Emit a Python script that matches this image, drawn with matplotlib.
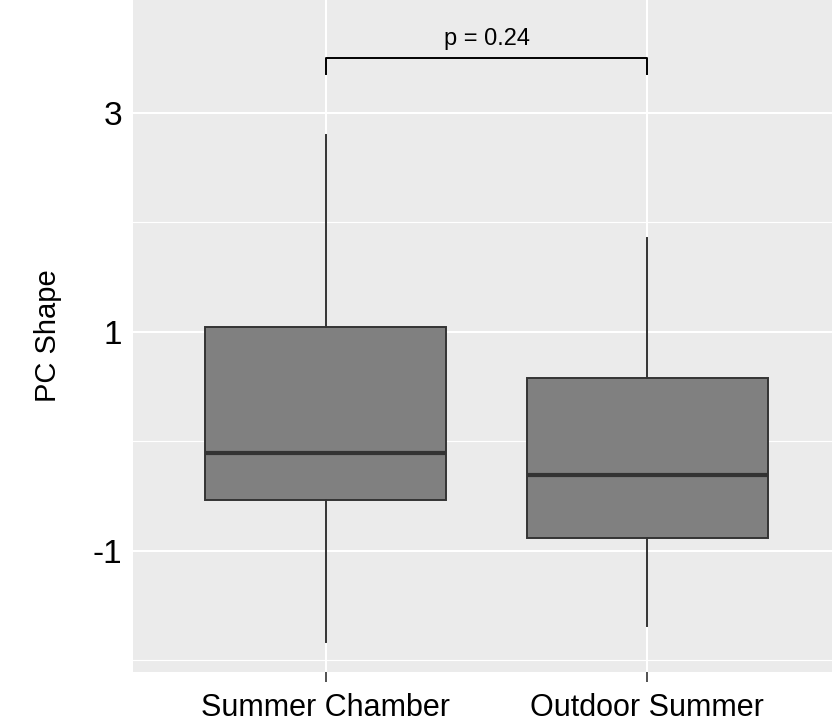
import matplotlib
matplotlib.use('Agg')
import matplotlib.pyplot as plt
from matplotlib import font_manager

# Шрифт: узкий, если есть
names = {f.name for f in font_manager.fontManager.ttflist}
narrow = 'Liberation Sans Narrow' if 'Liberation Sans Narrow' in names else 'Liberation Sans'
plt.rcParams['font.family'] = [narrow, 'DejaVu Sans']
plt.rcParams['axes.unicode_minus'] = False

# Данные
categories = ['Summer Chamber', 'Outdoor Summer']
whisker_low = [-1.84, -1.69]
q1 = [-0.54, -0.89]
median = [-0.11, -0.31]
q3 = [1.045, 0.576]
whisker_high = [2.80, 1.857]
p_label = 'p = 0.24'

stats = []
for i in range(len(categories)):
    stats.append({'whislo': whisker_low[i], 'q1': q1[i], 'med': median[i],
                  'q3': q3[i], 'whishi': whisker_high[i], 'fliers': [],
                  'label': categories[i]})

fig = plt.figure(figsize=(8.32, 7.27), dpi=100)
ax = fig.add_axes([133 / 832, 55 / 727, 707 / 832, 672 / 727])
ax.set_facecolor('#EBEBEB')

positions = [1, 2]
ax.bxp(stats, positions=positions, widths=0.75, patch_artist=True, showcaps=False,
       boxprops=dict(facecolor='#808080', edgecolor='#333333', linewidth=1.4),
       medianprops=dict(color='#333333', linewidth=3),
       whiskerprops=dict(color='#333333', linewidth=1.4),
       zorder=3)

ax.set_xlim(0.4, 2.6)
ax.set_ylim(-2.11, 4.03)
ax.set_yticks([-1, 1, 3])
ax.set_yticks([-2, 0, 2], minor=True)
ax.set_xticks(positions)
ax.set_xticklabels(categories)
ax.grid(True, which='major', color='white', linewidth=1.5, zorder=0)
ax.grid(True, which='minor', axis='y', color='white', linewidth=0.8, zorder=0)
ax.set_axisbelow(True)
for s in ax.spines.values():
    s.set_visible(False)
ax.tick_params(axis='y', which='both', length=0, labelsize=24, pad=8)
ax.tick_params(axis='x', length=7, color='#333333', width=1.2, labelsize=22, pad=8)
ax.set_ylabel('PC Shape', fontsize=21, labelpad=22)

# Скобка со значением p
yb = 3.50
ax.plot([1, 1, 2, 2], [yb - 0.15, yb, yb, yb - 0.15], color='black', linewidth=1.4, zorder=4)
ax.text(1.5, yb + 0.07, p_label, ha='center', va='bottom', fontsize=17)

plt.savefig('out.png', dpi=100)
